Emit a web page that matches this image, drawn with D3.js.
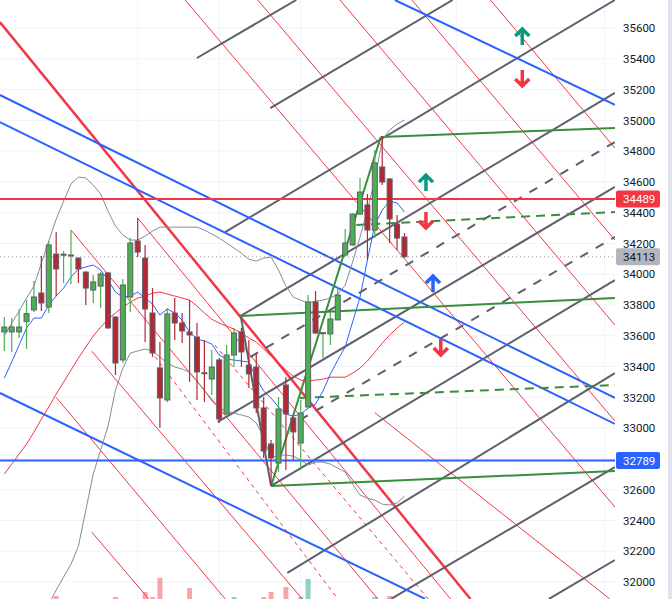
<!DOCTYPE html>
<html><head><meta charset="utf-8">
<script src="https://cdn.jsdelivr.net/npm/d3@7"></script>
<style>body{margin:0;background:#fff}svg{display:block}</style>
</head><body>
<svg id="c" width="672" height="599"></svg>
<script>
// ---------- DATA ----------
const opens  =[33625,33625,33625,33692,33768,33878,33787,34131,34125,34122,34105,34014,33897,33923,34008,33722,33443,33852,34216,34105,33748,33391,33183,33748,33683,33625,33592,33360,33319,33443,33092,33475,33625,33410,33397,33131,32897,32773,33280,33066,32903,33137,33820,33618,33612,33703,34125,34190,34391,34450,34287,34697,34619,34326,34242];
const highs  =[33722,33716,33774,33833,33956,34118,34216,34274,34151,34287,34110,34020,33995,34014,34014,33725,33969,34235,34365,34190,33910,33560,33781,33846,33748,33833,33683,33573,33508,33456,33540,33651,33651,33573,33488,33202,32923,33202,33332,33070,33183,33865,33891,33625,33755,33917,34294,34395,34625,34521,34807,34898,34625,34385,34268];
const lows   =[33501,33495,33586,33514,33755,33761,33748,33858,33943,33936,33943,33800,33813,33781,33645,33345,33423,33755,34112,33560,33462,33001,33170,33573,33553,33300,33183,33170,33215,33033,33085,33397,33397,33261,33098,32806,32625,32715,32728,32793,32728,33137,33612,33456,33540,33703,34112,34185,34385,34092,34235,34580,34203,34157,34110];
const closes =[33657,33657,33657,33744,33852,33813,34190,34034,34130,34125,34034,33910,33950,34001,33651,33423,33930,34203,34144,33774,33488,33196,33742,33683,33631,33605,33365,33358,33397,33059,33475,33618,33495,33352,33131,32851,32806,33124,33092,32975,33098,33820,33618,33620,33709,33865,34203,34391,34534,34287,34723,34599,34359,34235,34113];
const volumes=[30,28,26,35,40,45,48,54,38,36,34,40,30,42,48,53,50,46,44,58,53,72,50,44,40,62,48,38,36,50,48,53,44,42,50,53,58,50,63,45,53,71,49,40,42,46,47,44,46,48,53,49,54,45,38];
const bbUpper=[33598,33682,33760,33845,33923,34072,34215,34358,34475,34586,34631,34625,34579,34521,34410,34313,34254,34222,34222,34248,34280,34306,34306,34306,34306,34306,34306,34287,34261,34235,34202,34170,34137,34098,34085,34105,34111,34027,33923,33851,33832,33812,33825,33832,33845,33871,33929,34079,34241,34417,34612,34872,34937,34976,35002];
const bbLower=[null,null,null,null,null,31720,31856,31947,32032,32116,32233,32467,32701,32857,33013,33247,33390,33488,33501,33514,33501,33462,33423,33397,33384,33364,33306,33247,33176,33130,33111,33098,33085,33072,33033,32942,32805,32825,32825,32818,32792,32760,32779,32779,32766,32740,32714,32636,32565,32545,32532,32506,32500,32513,32558];
const maBlue =[33325,33429,33540,33650,33715,33715,33800,33858,33910,33982,34034,34047,34060,34027,33962,33884,33851,33858,33884,33845,33806,33735,33774,33748,33702,33624,33579,33566,33546,33475,33449,33442,33436,33429,33325,33241,33195,33137,33091,33078,33091,33130,33156,33241,33351,33442,33527,33689,33851,34092,34320,34417,34475,34463,34404];
const maRed  =[32701,32766,32831,32896,32974,33058,33137,33221,33299,33377,33455,33527,33598,33656,33708,33748,33786,33819,33845,33858,33877,33884,33871,33858,33845,33832,33793,33748,33708,33682,33663,33643,33617,33585,33559,33514,33468,33423,33377,33338,33312,33306,33312,33318,33331,33331,33331,33357,33390,33436,33494,33552,33604,33650,33689];
const priceTicks=[32000,32200,32400,32600,32800,33000,33200,33400,33600,33800,34000,34200,34400,34600,34800,35000,35200,35400,35600];
const timeGrid=[18,29,40,61,81];
// drawing lines: [barIndex1, price1, barIndex2, price2]
const grayLines=[[26.0,35405,39.4,35782],[35.9,35080,60.5,35782],[29.8,34274,82.4,35782],[31.9,33729,82.4,35178],[28.8,33040,82.4,34567],[36.0,32624,82.4,33962],[38.2,32059,82.4,33358],[52.2,31890,82.4,32747],[73.5,31890,82.4,32143],[31.9,33729,36.0,32624]];
const grayDashed=[[33.2,33462,82.4,34859],[39.9,33053,82.4,34242]];
const blueLines=[[52.7,35782,82.4,35100],[-0.6,35165,82.4,33196],[-0.6,34989,82.4,33027],[-0.6,33228,56.8,31890]];
const redThick=[[-0.6,35639,62.9,31890]];
const redThin=[[24.4,35782,82.4,32487],[34.2,35782,82.4,33046],[45.3,35782,82.4,33670],[55.0,35782,82.4,34222],[65.6,35782,82.4,34820],[18.0,34365,60.2,31890],[9.0,34287,50.4,31890],[7.0,33200,29.8,31890],[11.8,33500,40.2,31890],[11.8,32324,19.5,31890],[50.0,33100,81.7,31890]];
const redDashed=[[19.7,33507,45.0,31890],[28.4,33540,57.2,31890]];
const greenLines=[[36.0,32624,50.8,34892],[31.9,33729,82.4,33846],[50.8,34892,82.4,34950],[36.0,32624,82.4,32721]];
const greenDashed=[[39.9,33196,82.4,33280],[47.5,34320,82.4,34404]];
const hLines=[{price:34489,color:"#f23645"},{price:32789,color:"#2962ff"}];
const lastPrice=34113;
const arrows=[{i:69.9,p:35542,dir:"up",c:"#089981"},{i:69.9,p:35275,dir:"down",c:"#f23645"},{i:56.9,p:34592,dir:"up",c:"#089981"},{i:56.9,p:34352,dir:"down",c:"#f23645"},{i:57.85,p:33936,dir:"up",c:"#2962ff"},{i:58.9,p:33527,dir:"down",c:"#f23645"}];

// ---------- SCALES ----------
const W=672,H=599,PW=615;
const svg=d3.select("#c");
const x=d3.scaleLinear().domain([-0.58,82.41]).range([0,PW]);
const y=d3.scaleLinear().domain([32000,35600]).range([582,28]);
const vy=d3.scaleLinear().domain([0,100]).range([650,550]);
const FONT="Roboto, 'Liberation Sans', Arial, sans-serif";

svg.append("rect").attr("width",W).attr("height",H).attr("fill","#fff");
svg.append("defs").append("clipPath").attr("id","clip").append("rect").attr("width",PW).attr("height",H);
const plot=svg.append("g").attr("clip-path","url(#clip)");

// grid
plot.selectAll(".hg").data(priceTicks).join("line").attr("x1",0).attr("x2",PW)
  .attr("y1",d=>y(d)).attr("y2",d=>y(d)).attr("stroke","#f0f3fa").attr("stroke-width",1);
plot.selectAll(".vg").data(timeGrid).join("line").attr("y1",0).attr("y2",H)
  .attr("x1",d=>x(d)).attr("x2",d=>x(d)).attr("stroke","#f0f3fa").attr("stroke-width",1);

// volume
const idx=d3.range(opens.length);
plot.selectAll(".vol").data(idx).join("rect")
  .attr("x",i=>x(i)-2.5).attr("width",5)
  .attr("y",i=>vy(volumes[i])).attr("height",i=>vy(0)-vy(volumes[i]))
  .attr("fill",i=>closes[i]>=opens[i]?"rgba(8,153,129,0.45)":"rgba(242,54,69,0.45)");

function seg(g,data,color,width,dash){
  g.selectAll(null).data(data).join("line")
   .attr("x1",d=>x(d[0])).attr("y1",d=>y(d[1])).attr("x2",d=>x(d[2])).attr("y2",d=>y(d[3]))
   .attr("stroke",color).attr("stroke-width",width).attr("stroke-dasharray",dash||null);
}
seg(plot,redThin,"#f23645",1);
seg(plot,redDashed,"#f23645",1,"4,4");
seg(plot,redThick,"#f23645",2.5);
seg(plot,grayLines,"#5d606b",2);
seg(plot,grayDashed,"#5d606b",2,"9,9");
seg(plot,blueLines,"#2962ff",2);
seg(plot,greenLines,"#388e3c",2);
seg(plot,greenDashed,"#388e3c",2,"9,6");

// bands & MAs
function curve(arr,color,w){
  const ln=d3.line().defined(d=>d!=null).x((d,i)=>x(i)).y(d=>y(d));
  plot.append("path").datum(arr).attr("d",ln).attr("fill","none").attr("stroke",color).attr("stroke-width",w);
}
curve(bbUpper,"#888b94",1);
curve(bbLower,"#888b94",1);
curve(maRed,"#f23645",1);
curve(maBlue,"#2962ff",1);

// horizontal lines
plot.append("line").attr("x1",0).attr("x2",PW).attr("y1",y(lastPrice)).attr("y2",y(lastPrice))
  .attr("stroke","#9598a1").attr("stroke-width",1).attr("stroke-dasharray","1,3");
hLines.forEach(h=>{
  plot.append("line").attr("x1",0).attr("x2",PW).attr("y1",y(h.price)).attr("y2",y(h.price))
   .attr("stroke",h.color).attr("stroke-width",2);
});

// candles
const cg=plot.append("g");
idx.forEach(i=>{
  const up=closes[i]>=opens[i];
  const col=up?"#4caf50":"#b22833";
  cg.append("line").attr("x1",x(i)).attr("x2",x(i)).attr("y1",y(highs[i])).attr("y2",y(lows[i]))
    .attr("stroke",col).attr("stroke-width",1.2);
  const t=y(Math.max(opens[i],closes[i])), b=y(Math.min(opens[i],closes[i]));
  cg.append("rect").attr("x",x(i)-2.5).attr("width",5).attr("y",t).attr("height",Math.max(1,b-t))
    .attr("fill",col).attr("stroke","#5d606b").attr("stroke-width",1);
});

// arrows
arrows.forEach(a=>{
  const cx=x(a.i), cy=y(a.p), s=a.dir==="up"?-1:1;
  const d=`M${cx},${cy-8*s}L${cx},${cy+8*s}M${cx-7},${cy+1*s}L${cx},${cy+8*s}L${cx+7},${cy+1*s}`;
  plot.append("path").attr("d",d).attr("fill","none").attr("stroke",a.c).attr("stroke-width",3.5)
    .attr("stroke-linejoin","miter");
});

// axis
const ax=svg.append("g").attr("transform",`translate(${PW},0)`)
  .call(d3.axisRight(y).tickValues(priceTicks).tickSize(0).tickPadding(8).tickFormat(d3.format("d")));
ax.select(".domain").remove();
ax.selectAll("text").attr("font-family",FONT).attr("font-size",11.5).attr("fill","#131722");

// price labels
const labels=[{price:hLines[0].price,bg:hLines[0].color,fg:"#fff"},{price:lastPrice,bg:"#b2b5be",fg:"#131722"},{price:hLines[1].price,bg:hLines[1].color,fg:"#fff"}];
labels.forEach(l=>{
  const yy=y(l.price);
  svg.append("rect").attr("x",PW+1).attr("y",yy-8.5).attr("width",44).attr("height",17).attr("rx",2).attr("fill",l.bg);
  svg.append("text").attr("x",PW+8).attr("y",yy).attr("dy","0.35em").attr("font-family",FONT)
    .attr("font-size",11.5).attr("fill",l.fg).text(l.price);
});
svg.append("rect").attr("x",668).attr("y",0).attr("width",4).attr("height",H).attr("fill","#e0e3eb");
</script>
</body></html>
